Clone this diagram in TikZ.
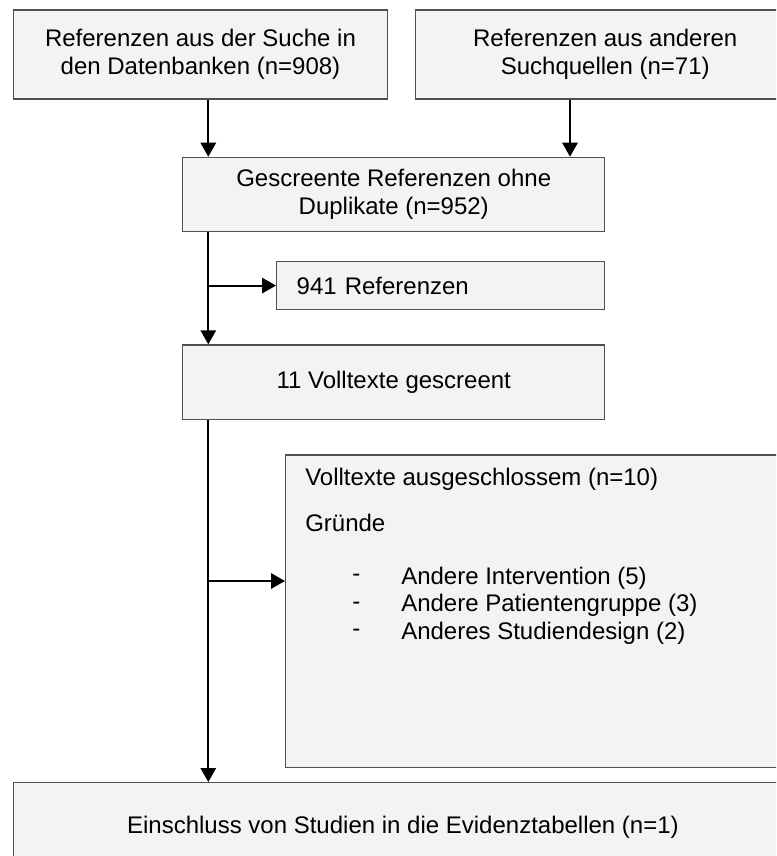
\documentclass[tikz,border=0pt]{standalone}
\usepackage{fontspec}
\setmainfont{Liberation Sans}
\usetikzlibrary{arrows.meta,calc}
\newlength\pxu
\setlength\pxu{0.75pt}
\definecolor{boxfill}{HTML}{F3F3F3}
\definecolor{boxline}{HTML}{505050}
\tikzset{
  box/.style={draw=boxline, fill=boxfill, line width=1.1pt, inner sep=0pt, align=center, anchor=north west,
    font=\fontsize{18pt}{21pt}\selectfont},
  txt/.style={inner sep=0pt, font=\fontsize{18pt}{21pt}\selectfont, anchor=west},
  arr/.style={-{Triangle[width=11.5pt,length=10.5pt]}, line width=1.5pt, black},
}
\begin{document}
\begin{tikzpicture}[x=0.75pt, y=-0.75pt]
\useasboundingbox (0,0) rectangle (776,856);
\clip (0,0) rectangle (776,856);
\fill[white] (0,0) rectangle (776,856);
% boxes
\node[box, minimum width=374.5\pxu, minimum height=89\pxu] (A) at (12.5,9.3)
  {Referenzen aus der Suche in\\den Datenbanken (n=908)};
\node[box, minimum width=379\pxu, minimum height=89\pxu] (B) at (415,9.3)
  {Referenzen aus anderen\\Suchquellen (n=71)};
\node[box, minimum width=422\pxu, minimum height=74.3\pxu] (C) at (182,156.7)
  {Gescreente Referenzen ohne\\Duplikate (n=952)};
\node[box, text width=288\pxu, inner xsep=20\pxu, align=left, minimum height=48.3\pxu] (D) at (276,260.7)
  {941 Referenzen};
\node[box, minimum width=422\pxu, minimum height=74.4\pxu] (E) at (182,344.3)
  {11 Volltexte gescreent};
\node[box, minimum width=507\pxu, minimum height=312.7\pxu] (F) at (285,454.3) {};
\node[box, minimum width=779\pxu, minimum height=90\pxu] (G) at (12.7,782)
  {Einschluss von Studien in die Evidenztabellen (n=1)};
% texts inside F
\node[txt] (f1) at (305,479) {Volltexte ausgeschlossem (n=10)};
\node[txt] (f2) at (305,523) {Gründe};
\node[txt] (b1d) at (352,578) {-};
\node[txt] (b1) at (401,578) {Andere Intervention (5)};
\node[txt] (b2d) at (352,605.5) {-};
\node[txt] (b2) at (401,605.5) {Andere Patientengruppe (3)};
\node[txt] (b3d) at (352,633) {-};
\node[txt] (b3) at (401,633) {Anderes Studiendesign (2)};
% connector helpers
\coordinate (xl) at (208.3,0);
\coordinate (xr) at (570,0);
\coordinate (yF) at (0,581);
% connectors
\draw[arr] (A.south -| xl) -- (C.north -| xl);
\draw[arr] (B.south -| xr) -- (C.north -| xr);
\draw[arr] (C.south -| xl) -- (E.north -| xl);
\draw[arr] (D.west -| xl) -- (D.west);
\draw[arr] (E.south -| xl) -- (G.north -| xl);
\draw[arr] (xl |- yF) -- (F.west |- yF);
\end{tikzpicture}
\end{document}
